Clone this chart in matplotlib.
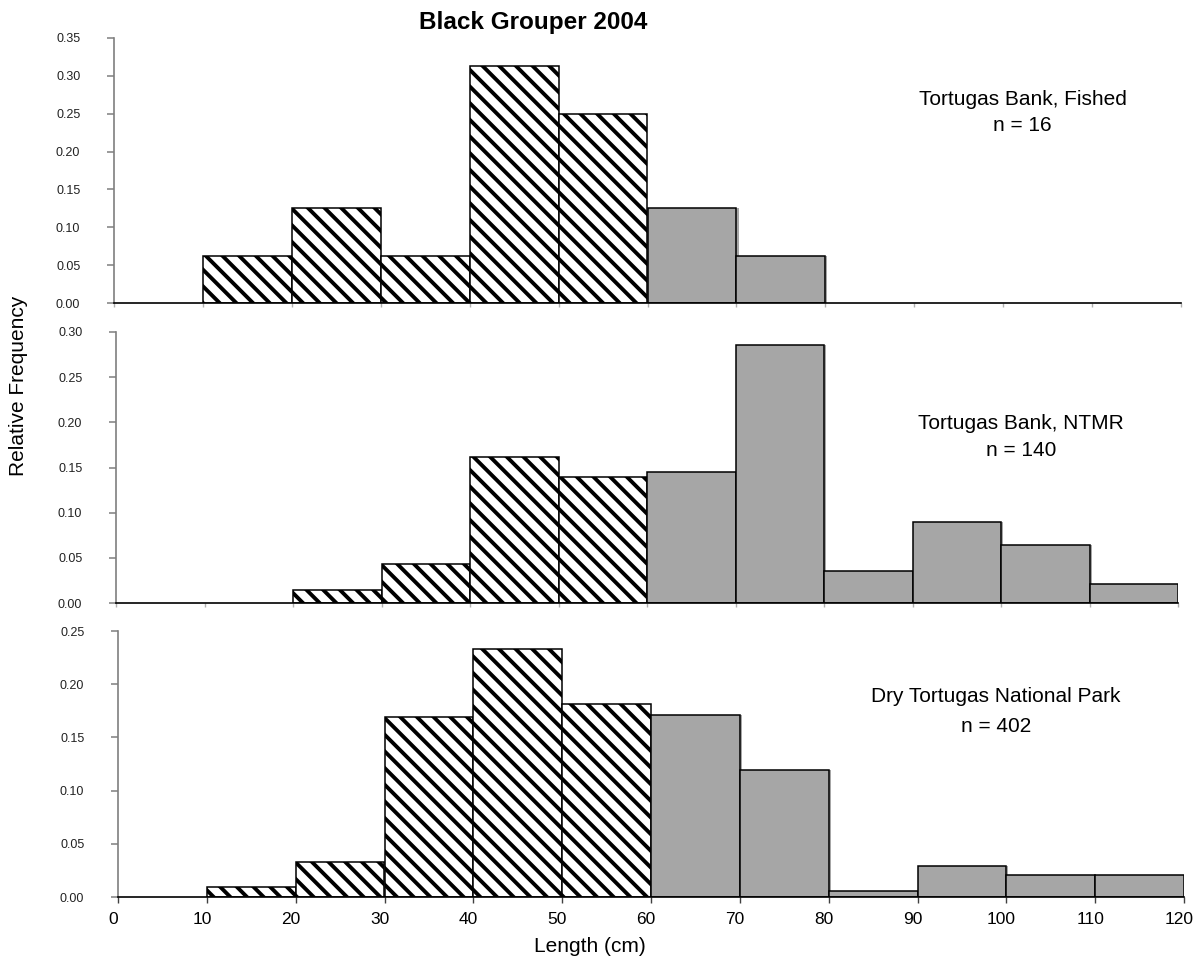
import matplotlib
matplotlib.use("Agg")
import matplotlib.pyplot as plt
import matplotlib.patheffects as pe
import matplotlib.transforms as mtransforms
import numpy as np

# ---------------- data ----------------
bin_left = [0, 10, 20, 30, 40, 50, 60, 70, 80, 90, 100, 110]
bin_width = 10
hatch_below = 60  # bins below this length are hatched

fished = [0, 0.0625, 0.125, 0.0625, 0.3125, 0.25, 0.125, 0.0625, 0, 0, 0, 0]
ntmr = [0, 0, 0.014, 0.043, 0.162, 0.140, 0.145, 0.286, 0.035, 0.090, 0.064, 0.021]
dtnp = [0, 0.009, 0.033, 0.169, 0.233, 0.181, 0.171, 0.119, 0.006, 0.029, 0.021, 0.021]

panel_labels = ["Tortugas Bank, Fished", "Tortugas Bank, NTMR", "Dry Tortugas National Park"]
panel_n = ["n = 16", "n = 140", "n = 402"]
panel_ymax = [0.35, 0.30, 0.25]
x_ticks = [0, 10, 20, 30, 40, 50, 60, 70, 80, 90, 100, 110, 120]

title = "Black Grouper 2004"
xlabel = "Length (cm)"
ylabel = "Relative Frequency"

# ---------------- style ----------------
plt.rcParams["font.family"] = ["Liberation Sans", "DejaVu Sans"]
plt.rcParams["hatch.linewidth"] = 2.8

GREY = "#a6a6a6"

fig = plt.figure(figsize=(11.95, 9.64), dpi=100)

# axes rectangles [left, bottom, width, height] in figure fraction
rects = [
    [114 / 1195, 1 - 303 / 964, 1067 / 1195, 265 / 964],
    [116 / 1195, 1 - 603 / 964, 1062 / 1195, 271 / 964],
    [118 / 1195, 1 - 897 / 964, 1066 / 1195, 266 / 964],
]
text_pos = [(102.2, 0.2694, 0.2338), (102.3, 0.1990, 0.1685), (98.8, 0.1880, 0.1600)]

series = [fished, ntmr, dtnp]
axes = []
for i, (vals, rect) in enumerate(zip(series, rects)):
    ax = fig.add_axes(rect)
    axes.append(ax)
    left = np.array(bin_left, dtype=float)
    v = np.array(vals, dtype=float)
    mask = v > 0
    hatched = mask & (left < hatch_below)
    grey = mask & (left >= hatch_below)
    ax.bar(left[hatched], v[hatched], width=bin_width, align="edge",
           facecolor="white", edgecolor="black", hatch="\\\\", linewidth=1.1, zorder=2)
    ax.bar(left[grey], v[grey], width=bin_width, align="edge",
           facecolor=GREY, edgecolor="black", linewidth=1.1, zorder=2,
           path_effects=[pe.SimplePatchShadow(offset=(1.5, 0), shadow_rgbFace=GREY, alpha=1.0),
                         pe.Normal()])

    ymax = panel_ymax[i]
    ax.set_xlim(0, 120)
    ax.set_ylim(0, ymax)
    yt = np.round(np.arange(0, ymax + 1e-9, 0.05), 2)
    ax.set_yticks(yt)
    ax.set_yticklabels([f"{t:.2f}" for t in yt])
    ax.set_xticks(x_ticks)

    for s in ["top", "right"]:
        ax.spines[s].set_visible(False)
    ax.spines["left"].set_color("#7f7f7f")
    ax.spines["left"].set_linewidth(1.2)
    ax.spines["bottom"].set_color("black")
    ax.spines["bottom"].set_linewidth(1.2)

    ax.tick_params(axis="y", direction="out", length=5, width=1.1, color="#7f7f7f",
                   labelsize=9, labelcolor="#222222", pad=28)
    for lab in ax.get_yticklabels():
        lab.set_horizontalalignment("center")

    if i < 2:
        ax.tick_params(axis="x", direction="out", length=3, width=1.0, color="#b0b0b0",
                       labelbottom=False)
    else:
        ax.tick_params(axis="x", direction="out", length=4, width=1.0, color="#404040",
                       labelsize=12.5, pad=7)
        offset = mtransforms.ScaledTranslation(-5 / 100, 0, fig.dpi_scale_trans)
        for lab in ax.get_xticklabels():
            lab.set_transform(lab.get_transform() + offset)

    tx, ty1, ty2 = text_pos[i]
    ax.text(tx, ty1, panel_labels[i], ha="center", va="center", fontsize=15)
    ax.text(tx, ty2, panel_n[i], ha="center", va="center", fontsize=15)

fig.text(533 / 1195, 1 - 22 / 964, title, ha="center", va="center",
         fontsize=17.5, fontweight="bold")
fig.text(590 / 1195, 1 - 946 / 964, xlabel, ha="center", va="center", fontsize=15)
fig.text(19 / 1195, 1 - 386 / 964, ylabel, ha="center", va="center",
         rotation=90, fontsize=15)

fig.savefig("out.png", dpi=100)
